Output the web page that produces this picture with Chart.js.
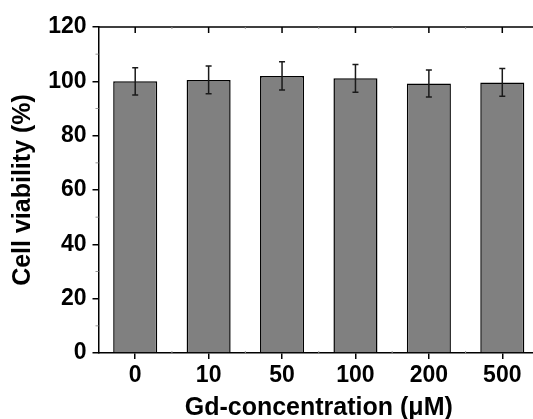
<!DOCTYPE html>
<html>
<head>
<meta charset="utf-8">
<script src="https://cdn.jsdelivr.net/npm/chart.js@4.4.0/dist/chart.umd.min.js"></script>
<style>
  html, body { margin: 0; padding: 0; overflow: hidden; background: #fff; }
  canvas { display: block; }
</style>
</head>
<body>
<canvas id="viability-chart" width="543" height="419"></canvas>
<script>
// values
const concentrations = ['0', '10', '50', '100', '200', '500'];
const viability = [100.0, 100.5, 102.0, 101.1, 99.2, 99.6];
const viabilityErr = [5.0, 5.1, 5.2, 5.1, 5.0, 5.1];
const yTicks = [0, 20, 40, 60, 80, 100, 120];

const FONT = "'Liberation Sans', Arial, sans-serif";

// error bars + the mirrored top/right axes and minor ticks (Origin style)
const framePlugin = {
  id: 'frame',
  afterDatasetsDraw(chart) {
    const c = chart.ctx;
    const x = chart.scales.x;
    const y = chart.scales.y;
    const area = chart.chartArea;
    const meta = chart.getDatasetMeta(0);

    c.save();
    c.strokeStyle = '#1a1a1a';
    c.lineWidth = 1.5;
    meta.data.forEach((bar, i) => {
      const top = y.getPixelForValue(viability[i] + viabilityErr[i]);
      const bot = y.getPixelForValue(viability[i] - viabilityErr[i]);
      c.beginPath();
      c.moveTo(bar.x, top); c.lineTo(bar.x, bot);
      c.moveTo(bar.x - 3, top); c.lineTo(bar.x + 3, top);
      c.moveTo(bar.x - 3, bot); c.lineTo(bar.x + 3, bot);
      c.stroke();
    });

    c.strokeStyle = '#000';
    c.lineWidth = 1.5;
    c.beginPath();
    c.moveTo(area.left, area.top); c.lineTo(area.right, area.top);
    c.lineTo(area.right, area.bottom);
    c.stroke();

    // top axis major ticks (pointing down)
    c.beginPath();
    concentrations.forEach((_, i) => {
      const px = x.getPixelForValue(i);
      c.moveTo(px, area.top); c.lineTo(px, area.top + 6);
    });
    // right axis major ticks (pointing left)
    yTicks.forEach(v => {
      const py = y.getPixelForValue(v);
      c.moveTo(area.right, py); c.lineTo(area.right - 6, py);
    });
    c.stroke();

    // minor y ticks on the left, outward
    c.lineWidth = 1;
    c.beginPath();
    for (let k = 0; k < yTicks.length - 1; k++) {
      const py = y.getPixelForValue((yTicks[k] + yTicks[k + 1]) / 2);
      c.moveTo(area.left, py); c.lineTo(area.left - 3, py);
      c.moveTo(area.right, py); c.lineTo(area.right - 3, py);
    }
    // tiny minor x ticks at category boundaries
    for (let i = 0; i < concentrations.length - 1; i++) {
      const px = x.getPixelForValue(i + 0.5);
      c.moveTo(px, area.bottom); c.lineTo(px, area.bottom - 2);
      c.moveTo(px, area.top); c.lineTo(px, area.top + 2);
    }
    c.strokeStyle = '#999';
    c.stroke();
    c.restore();
  }
};

const ctx = document.getElementById('viability-chart').getContext('2d');

const chart = new Chart(ctx, {
  type: 'bar',
  data: {
    labels: concentrations,
    datasets: [{
      data: viability,
      backgroundColor: '#808080',
      borderColor: '#000',
      borderWidth: 1.5,
      barPercentage: 0.6,
      categoryPercentage: 1.0
    }]
  },
  options: {
    responsive: false,
    animation: false,
    events: [],
    layout: { padding: { left: 0, top: 27, right: 4, bottom: 0 } },
    plugins: {
      legend: { display: false },
      tooltip: { enabled: false }
    },
    scales: {
      x: {
        offset: true,
        grid: {
          offset: false,
          drawOnChartArea: false,
          drawTicks: true,
          tickLength: 6,
          color: '#000',
          lineWidth: 1.5
        },
        border: { display: true, color: '#000', width: 1.5 },
        ticks: {
          color: '#000',
          padding: 3,
          maxRotation: 0,
          font: { family: FONT, size: 23, weight: 'bold' }
        },
        title: {
          display: true,
          text: 'Gd-concentration (\u03bcM)',
          color: '#000',
          padding: { top: 0, bottom: -2 },
          font: { family: FONT, size: 25, weight: 'bold', lineHeight: 1 }
        },
        afterFit: s => { s.height = 66; }
      },
      y: {
        min: yTicks[0],
        max: yTicks[yTicks.length - 1],
        grid: {
          drawOnChartArea: false,
          drawTicks: true,
          tickLength: 6,
          color: '#000',
          lineWidth: 1.5
        },
        border: { display: true, color: '#000', width: 1.5 },
        ticks: {
          stepSize: 20,
          color: '#000',
          padding: 6,
          font: { family: FONT, size: 23, weight: 'bold' }
        },
        title: {
          display: true,
          text: 'Cell viability (%)',
          color: '#000',
          padding: { top: 11, bottom: 0 },
          font: { family: FONT, size: 25, weight: 'bold', lineHeight: 1 }
        },
        afterFit: s => { s.width = 98.5; }
      }
    }
  },
  plugins: [framePlugin]
});
</script>
</body>
</html>
